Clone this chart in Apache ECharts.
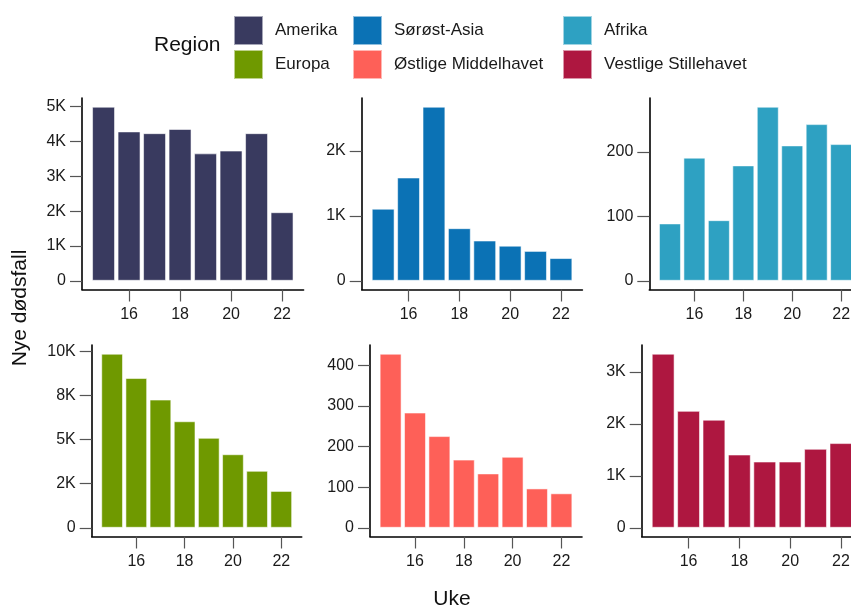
<!DOCTYPE html>
<html>
<head>
<meta charset="utf-8">
<script src="https://cdn.jsdelivr.net/npm/echarts@6/dist/echarts.min.js"></script>
<style>
  html, body { margin: 0; padding: 0; background: #fff; }
  #main { width: 851px; height: 605px; }
</style>
</head>
<body>
<div id="main"></div>
<script>
// uker (x-akse)
const weeks = [15, 16, 17, 18, 19, 20, 21, 22];
const weekTicks = [16, 18, 20, 22];

// regioner, i facet-rekkefølge
const regions = ['Amerika', 'Sørøst-Asia', 'Afrika', 'Europa', 'Østlige Middelhavet', 'Vestlige Stillehavet'];
const colors = ['#393A5F', '#0B72B5', '#2EA1C2', '#6F9900', '#FE6058', '#AE1740'];

// nye dødsfall per uke
const amerika = [5000, 4290, 4240, 4360, 3660, 3740, 4240, 1970];
const sorostAsia = [1110, 1590, 2680, 810, 620, 540, 460, 350];
const afrika = [89, 191, 94, 179, 270, 210, 243, 212];
const europa = [9870, 8490, 7270, 6040, 5100, 4170, 3230, 2090];
const ostligeMiddelhavet = [429, 284, 226, 168, 134, 175, 97, 85];
const vestligeStillehavet = [3350, 2250, 2080, 1410, 1275, 1275, 1520, 1630];
const values = [amerika, sorostAsia, afrika, europa, ostligeMiddelhavet, vestligeStillehavet];

// y-aksens ticks og etiketter per panel
const yTicks = [
  [0, 1000, 2000, 3000, 4000, 5000],
  [0, 1000, 2000],
  [0, 100, 200],
  [0, 2500, 5000, 7500, 10000],
  [0, 100, 200, 300, 400],
  [0, 1000, 2000, 3000]
];
const yLabels = [
  ['0', '1K', '2K', '3K', '4K', '5K'],
  ['0', '1K', '2K'],
  ['0', '100', '200'],
  ['0', '2K', '5K', '8K', '10K'],
  ['0', '100', '200', '300', '400'],
  ['0', '1K', '2K', '3K']
];

// panelplassering (px)
const panels = [
  { left: 82, top: 98, width: 221.6 },
  { left: 361.7, top: 98, width: 220.7 },
  { left: 649.3, top: 98, width: 212.5 },
  { left: 91.7, top: 345, width: 210 },
  { left: 370, top: 345, width: 212 },
  { left: 641.7, top: 345, width: 220.7 }
];
const panelHeight = 191.5;
const xMin = 14.155, xMax = 22.845;
const font = 'Liberation Sans, Arial, sans-serif';

const grids = [], xAxes = [], yAxes = [], series = [];
regions.forEach(function (name, i) {
  const p = panels[i];
  grids.push({ left: p.left, top: p.top, width: p.width, height: panelHeight, outerBoundsMode: 'none' });
  xAxes.push({
    type: 'value', gridIndex: i, min: xMin, max: xMax,
    splitLine: { show: false },
    axisLine: { onZero: false, lineStyle: { color: '#000', width: 1.6 } },
    axisTick: { show: true, length: 12, customValues: weekTicks, lineStyle: { color: '#555', width: 1.2 } },
    axisLabel: { customValues: weekTicks, margin: 17, fontSize: 16, color: '#1a1a1a', fontFamily: font }
  });
  const top = Math.max.apply(null, values[i]);
  const ticks = yTicks[i], labels = yLabels[i];
  yAxes.push({
    type: 'value', gridIndex: i, min: -0.05 * top, max: 1.05 * top,
    splitLine: { show: false },
    axisLine: { show: true, onZero: false, lineStyle: { color: '#000', width: 1.6 } },
    axisTick: { show: true, length: 12, customValues: ticks, lineStyle: { color: '#555', width: 1.2 } },
    axisLabel: {
      customValues: ticks, margin: 16, fontSize: 16, color: '#1a1a1a', fontFamily: font,
      formatter: function (v) {
        const k = ticks.indexOf(v);
        return k >= 0 ? labels[k] : '';
      }
    }
  });
  series.push({
    name: name, type: 'bar', xAxisIndex: i, yAxisIndex: i,
    barWidth: 0.9 * p.width / (xMax - xMin),
    itemStyle: { color: colors[i], borderColor: 'rgba(255,255,255,0.55)', borderWidth: 1 },
    data: weeks.map(function (w, k) { return [w, values[i][k]]; })
  });
});

function legendCol(names, left) {
  return {
    data: names, left: left, top: 15, orient: 'vertical', padding: 0,
    itemWidth: 29, itemHeight: 29, itemGap: 3, icon: 'rect', selectedMode: false,
    textStyle: { fontSize: 17, color: '#1a1a1a', fontFamily: font, padding: [0, 0, 0, 7] }
  };
}

const chart = echarts.init(document.getElementById('main'), null, { renderer: 'canvas' });
chart.setOption({
  animation: false,
  backgroundColor: '#fff',
  legend: [
    legendCol(['Amerika', 'Europa'], 233),
    legendCol(['Sørøst-Asia', 'Østlige Middelhavet'], 352),
    legendCol(['Afrika', 'Vestlige Stillehavet'], 562)
  ],
  grid: grids,
  xAxis: xAxes,
  yAxis: yAxes,
  series: series,
  graphic: [
    { type: 'text', left: 154, top: 35, style: { text: 'Region', fontSize: 21, fill: '#111', fontFamily: font } },
    { type: 'text', x: 452, y: 599, style: { text: 'Uke', fontSize: 21, fill: '#111', fontFamily: font, align: 'center', verticalAlign: 'middle' } },
    { type: 'text', x: 20, y: 308, rotation: Math.PI / 2, style: { text: 'Nye dødsfall', fontSize: 21, fill: '#111', fontFamily: font, align: 'center', verticalAlign: 'middle' } }
  ]
});
</script>
</body>
</html>
